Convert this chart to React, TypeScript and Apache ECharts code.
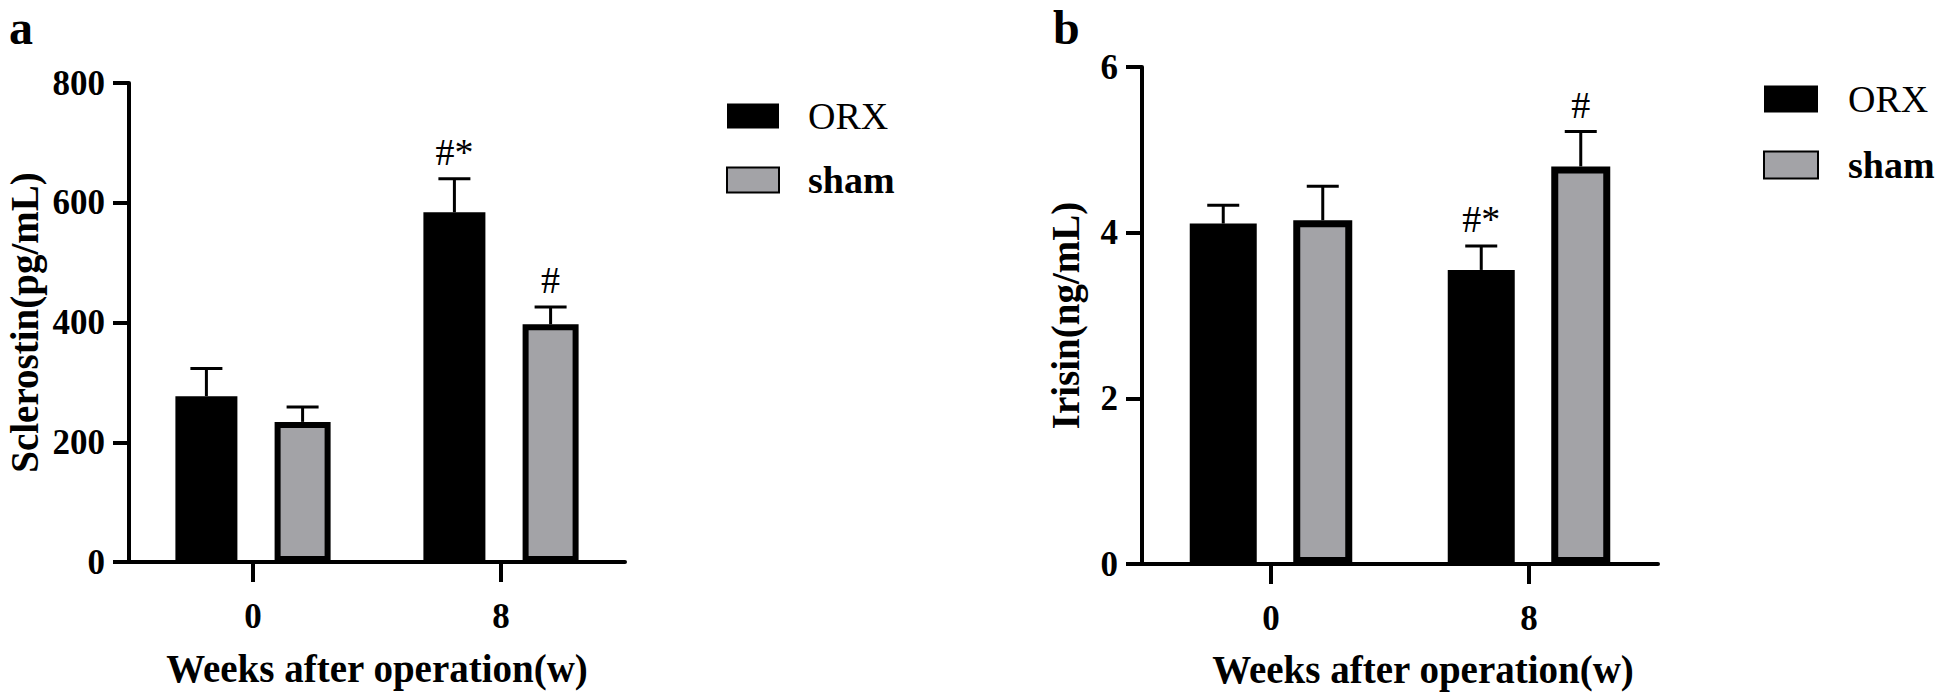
import React, { useEffect, useRef } from 'react';
import * as echarts from 'echarts';

// ---------- data ----------
const categories = ['0', '8'];
const groupNames = ['ORX', 'sham'];

const sclerostinORX = [277, 584];
const sclerostinORXErr = [46, 56];
const sclerostinSham = [234, 397];
const sclerostinShamErr = [25, 29];
const sclerostinORXMarks = ['', '#*'];
const sclerostinShamMarks = ['', '#'];
const sclerostinAxis = { min: 0, max: 800, interval: 200 };

const irisinORX = [4.11, 3.55];
const irisinORXErr = [0.22, 0.29];
const irisinSham = [4.15, 4.8];
const irisinShamErr = [0.41, 0.42];
const irisinORXMarks = ['', '#*'];
const irisinShamMarks = ['', '#'];
const irisinAxis = { min: 0, max: 6, interval: 2 };

const panelLabels = ['a', 'b'];
const xAxisTitle = 'Weeks after operation(w)';
const yAxisTitles = ['Sclerostin(pg/mL)', 'Irisin(ng/mL)'];

// ---------- styles ----------
const FONT = "'Liberation Serif', 'Times New Roman', serif";
const BLACK = '#000000';
const GRAY = '#a3a3a7';

type PanelCfg = {
  grid: { left: number; top: number; width: number; height: number };
  orxWidth: number;
  shamWidth: number;
  shamBorder: number;
  barGap: number;
  yNameGap: number;
  xNameGap: number;
  xNameShift: number;
  legend: { left: number; top: number; w: number; h: number; gap: number; textPad: number };
};

const panels: PanelCfg[] = [
  {
    grid: { left: 129, top: 83, width: 496, height: 479 },
    orxWidth: 62,
    shamWidth: 56,
    shamBorder: 6,
    barGap: 0.6,
    yNameGap: 85,
    xNameGap: 87,
    xNameShift: 0,
    legend: { left: 726, top: 97, w: 52, h: 25, gap: 26, textPad: 24 },
  },
  {
    grid: { left: 1142, top: 67, width: 516, height: 497 },
    orxWidth: 67,
    shamWidth: 59,
    shamBorder: 7,
    barGap: 0.545,
    yNameGap: 57,
    xNameGap: 86,
    xNameShift: 23,
    legend: { left: 1763, top: 80, w: 54, h: 27, gap: 28, textPad: 25 },
  },
];

function offsets(p: PanelCfg) {
  const total = p.orxWidth * (1 + p.barGap) + p.shamWidth;
  const start = -total / 2;
  const orx = start + p.orxWidth / 2;
  const sham = start + p.orxWidth * (1 + p.barGap) + p.shamWidth / 2;
  return [orx, sham];
}

function errorSeries(
  idx: number,
  name: string,
  values: number[],
  errs: number[],
  marks: string[],
  offset: number
) {
  return {
    type: 'custom',
    name,
    xAxisIndex: idx,
    yAxisIndex: idx,
    clip: false,
    z: 3,
    silent: true,
    data: values.map((v, i) => [i, v, errs[i]]),
    renderItem: (params: any, api: any) => {
      const ci = api.value(0);
      const mean = api.value(1);
      const err = api.value(2);
      const base = api.coord([ci, mean]);
      const top = api.coord([ci, mean + err]);
      const x = base[0] + offset;
      const mark = marks[params.dataIndex] || '';
      return {
        type: 'group',
        children: [
          {
            type: 'line',
            shape: { x1: x, y1: base[1], x2: x, y2: top[1] },
            style: { stroke: BLACK, lineWidth: 3 },
          },
          {
            type: 'line',
            shape: { x1: x - 16, y1: top[1], x2: x + 16, y2: top[1] },
            style: { stroke: BLACK, lineWidth: 3 },
          },
          {
            type: 'text',
            x,
            y: top[1] - 8,
            style: {
              text: mark,
              fontFamily: FONT,
              fontSize: 38,
              fontWeight: 'normal',
              fill: BLACK,
              align: 'center',
              verticalAlign: 'bottom',
            },
          },
        ],
      };
    },
  };
}

function buildOption() {
  const datasets = [
    {
      orx: sclerostinORX, orxErr: sclerostinORXErr, orxMarks: sclerostinORXMarks,
      sham: sclerostinSham, shamErr: sclerostinShamErr, shamMarks: sclerostinShamMarks,
      axis: sclerostinAxis,
    },
    {
      orx: irisinORX, orxErr: irisinORXErr, orxMarks: irisinORXMarks,
      sham: irisinSham, shamErr: irisinShamErr, shamMarks: irisinShamMarks,
      axis: irisinAxis,
    },
  ];

  const grid: any[] = [];
  const xAxis: any[] = [];
  const yAxis: any[] = [];
  const series: any[] = [];
  const legend: any[] = [];

  panels.forEach((p, i) => {
    const d = datasets[i];
    grid.push({ ...p.grid, containLabel: false, outerBoundsMode: 'none' });
    xAxis.push({
      type: 'category',
      gridIndex: i,
      data: categories,
      name: xAxisTitle,
      nameLocation: 'middle',
      nameGap: p.xNameGap,
      nameTextStyle: {
        fontFamily: FONT,
        fontSize: 39,
        fontWeight: 'bold',
        color: BLACK,
        padding: [0, 0, 0, p.xNameShift * 2],
      },
      axisLine: { show: true, lineStyle: { color: BLACK, width: 4 } },
      axisTick: { show: true, alignWithLabel: true, length: 20, lineStyle: { color: BLACK, width: 4 } },
      axisLabel: { fontFamily: FONT, fontSize: 35, fontWeight: 'bold', color: BLACK, margin: 37 },
      splitLine: { show: false },
    });
    yAxis.push({
      type: 'value',
      gridIndex: i,
      min: d.axis.min,
      max: d.axis.max,
      interval: d.axis.interval,
      name: yAxisTitles[i],
      nameLocation: 'middle',
      nameGap: p.yNameGap,
      nameTextStyle: { fontFamily: FONT, fontSize: 39, fontWeight: 'bold', color: BLACK },
      axisLine: { show: true, lineStyle: { color: BLACK, width: 4 } },
      axisTick: { show: true, length: 16, lineStyle: { color: BLACK, width: 4 } },
      axisLabel: { fontFamily: FONT, fontSize: 35, fontWeight: 'bold', color: BLACK, margin: 24 },
      splitLine: { show: false },
    });
    series.push({
      type: 'bar',
      name: groupNames[0],
      xAxisIndex: i,
      yAxisIndex: i,
      barWidth: p.orxWidth,
      barGap: `${p.barGap * 100}%`,
      itemStyle: { color: BLACK, borderWidth: 0 },
      data: d.orx,
      z: 2,
    });
    series.push({
      type: 'bar',
      name: groupNames[1],
      xAxisIndex: i,
      yAxisIndex: i,
      barWidth: p.shamWidth,
      barGap: `${p.barGap * 100}%`,
      itemStyle: { color: GRAY, borderColor: BLACK, borderWidth: p.shamBorder },
      data: d.sham,
      z: 2,
    });
    const [oOff, sOff] = offsets(p);
    series.push(errorSeries(i, `${groupNames[0]} SD ${i}`, d.orx, d.orxErr, d.orxMarks, oOff));
    series.push(errorSeries(i, `${groupNames[1]} SD ${i}`, d.sham, d.shamErr, d.shamMarks, sOff));

    legend.push({
      data: groupNames,
      orient: 'vertical',
      left: p.legend.left,
      top: p.legend.top,
      padding: 0,
      icon: 'rect',
      itemWidth: p.legend.w,
      itemHeight: p.legend.h,
      itemGap: p.legend.gap,
      selectedMode: false,
      formatter: (name: string) => (name === groupNames[0] ? `{n|${name}}` : `{b|${name}}`),
      textStyle: {
        fontFamily: FONT,
        fontSize: 38,
        color: BLACK,
        rich: {
          n: { fontFamily: FONT, fontSize: 38, fontWeight: 'normal', color: BLACK, padding: [0, 0, 0, p.legend.textPad] },
          b: { fontFamily: FONT, fontSize: 38, fontWeight: 'bold', color: BLACK, padding: [0, 0, 0, p.legend.textPad] },
        },
      },
    });
  });

  const graphic = [
    {
      type: 'text',
      left: 9,
      top: 3,
      style: { text: panelLabels[0], fontFamily: FONT, fontSize: 48, fontWeight: 'bold', fill: BLACK },
    },
    {
      type: 'text',
      left: 1053,
      top: 3,
      style: { text: panelLabels[1], fontFamily: FONT, fontSize: 48, fontWeight: 'bold', fill: BLACK },
    },
  ];

  return {
    animation: false,
    backgroundColor: '#ffffff',
    grid,
    xAxis,
    yAxis,
    series,
    legend,
    graphic,
  };
}

export default function App() {
  const ref = useRef<HTMLDivElement>(null);
  useEffect(() => {
    if (!ref.current) return;
    const chart = echarts.init(ref.current, undefined, { renderer: 'svg' });
    chart.setOption(buildOption() as any);
    return () => {
      chart.dispose();
    };
  }, []);
  return (
    <div
      ref={ref}
      style={{ position: 'fixed', left: 0, top: 0, width: 1943, height: 692, background: '#fff' }}
    />
  );
}
